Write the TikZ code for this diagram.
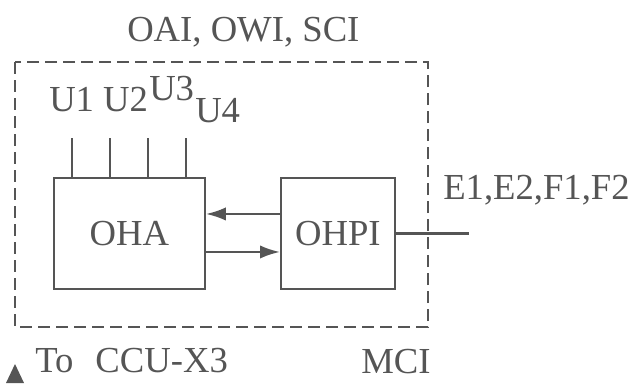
\documentclass[tikz,border=0pt]{standalone}
\usepackage{fontspec}
\setmainfont{Liberation Serif}
\usetikzlibrary{arrows.meta}
\definecolor{ink}{RGB}{85,85,85}

\begin{document}
\begin{tikzpicture}[x=0.75pt,y=0.75pt,yscale=-1,xscale=1,
        every node/.style={text=ink,font=\fontsize{27.5}{33}\selectfont},
        blk/.style={draw=ink,line width=1.4pt,inner sep=0pt,anchor=north west,minimum height=83.25pt},
        lbl/.style={anchor=base west,inner sep=0pt},
        link/.style={draw=ink,line width=1.8pt,-{Latex[length=15pt,width=10pt]}}]
        \useasboundingbox (0,0) rectangle (635,383);
        \draw [ink,line width=1.3pt,dash pattern=on 9pt off 4.5pt] (15,62) rectangle (428,327);
        \node [blk,minimum width=113.25pt] (OHA) at (53,177) {OHA};
        \node [blk,minimum width=85.5pt] (OHPI) at (280,177) {OHPI};
        \draw [link] ([yshift=-14.6pt]OHPI.west) -- ([yshift=-14.6pt]OHA.east);
        \draw [link] ([yshift=13.9pt]OHA.east) -- ([yshift=13.9pt]OHPI.west);
        \foreach \u in {72,110,148,186}
            \draw [ink,line width=1.2pt] (\u,138) -- (\u,138 |- OHA.north);
        \coordinate (Eend) at (469,233);
        \draw [ink,line width=1.8pt] (OHPI.east) -- (OHPI.east -| Eend);
        \fill [ink] (6,383) -- (15,364) -- (24,383) -- cycle;
        \node [lbl] (title) at (127,41) {OAI, OWI, SCI};
        \node [lbl] (u12) at (49,111) {U1 U2};
        \node [lbl] (u3) at (149,100) {U3};
        \node [lbl] (u4) at (195,122) {U4};
        \node [lbl] (ef) at (443,199) {E1,E2,F1,F2};
        \node [lbl] (ccu) at (35,372) {To\hspace{0.6em}CCU-X3};
        \node [lbl] (mci) at (361,373) {MCI};
\end{tikzpicture}
\end{document}
